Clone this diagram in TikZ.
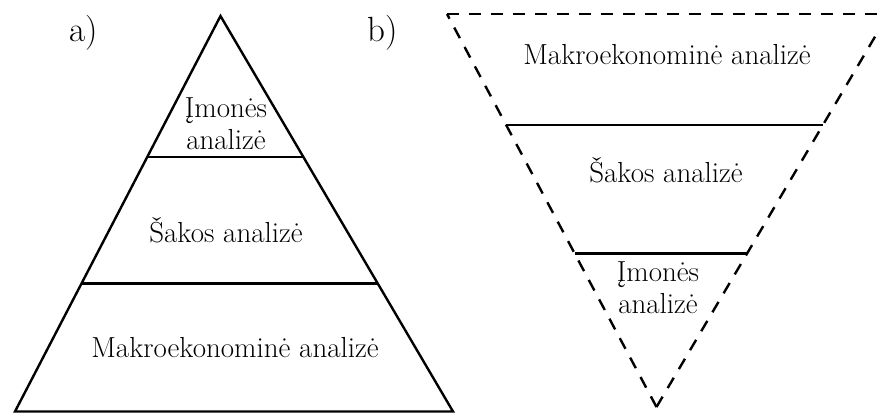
\documentclass[tikz,border=0pt]{standalone}
\usepackage{fontspec}
\usetikzlibrary{calc}
\begin{document}
\begin{tikzpicture}[x=1pt,y=-1pt,
  edge/.style={line width=2.4pt,line join=miter},
  dashedge/.style={line width=2.4pt,dash pattern=on 12pt off 10pt},
  divider/.style={line width=2.4pt},
  lbl/.style={font=\fontsize{29}{32}\selectfont,inner sep=0pt,align=center},
  tag/.style={font=\fontsize{35}{36}\selectfont,inner sep=0pt}]
\useasboundingbox (0,0) rectangle (879,413);

% a) pyramid
\coordinate (A) at (220.5,16);
\coordinate (BL) at (15,411.5);
\coordinate (BR) at (453,411.5);
\draw[edge] (A) -- (BL) -- (BR) -- cycle;
\coordinate (a1l) at ($(A)!0.357!(BL)$);
\coordinate (a1r) at ($(A)!0.357!(BR)$);
\coordinate (a2l) at ($(A)!0.676!(BL)$);
\coordinate (a2r) at ($(A)!0.676!(BR)$);
\draw[divider] (a1l) -- (a1r);
\draw[divider] (a2l) -- (a2r);
\node[tag] (taga) at (84,33) {a)};
\node[lbl] (a_imone) at (226,124) {Įmonės\\analizė};
\node[lbl] (a_saka) at (226,230) {Šakos analizė};
\node[lbl] (a_makro) at (235,348) {Makroekonominė analizė};

% b) inverted funnel
\coordinate (TL) at (447,14);
\coordinate (TR) at (888.4,14);
\coordinate (V) at (656.5,407);
\draw[dashedge] (TL) -- (TR);
\draw[dashedge] (V) -- (TL);
\draw[dashedge] (V) -- (TR);
\coordinate (b1l) at ($(TL)!0.2824!(V)$);
\coordinate (b1r) at ($(TR)!0.2824!(V)$);
\coordinate (b2l) at ($(TL)!0.609!(V)$);
\coordinate (b2r) at ($(TR)!0.609!(V)$);
\draw[divider] (b1l) -- (b1r);
\draw[divider] (b2l) -- (b2r);
\node[tag] (tagb) at (383,33) {b)};
\node[lbl] (b_makro) at (667,55) {Makroekonominė analizė};
\node[lbl] (b_saka) at (666,170) {Šakos analizė};
\node[lbl] (b_imone) at (658,288) {Įmonės\\analizė};
\end{tikzpicture}
\end{document}
